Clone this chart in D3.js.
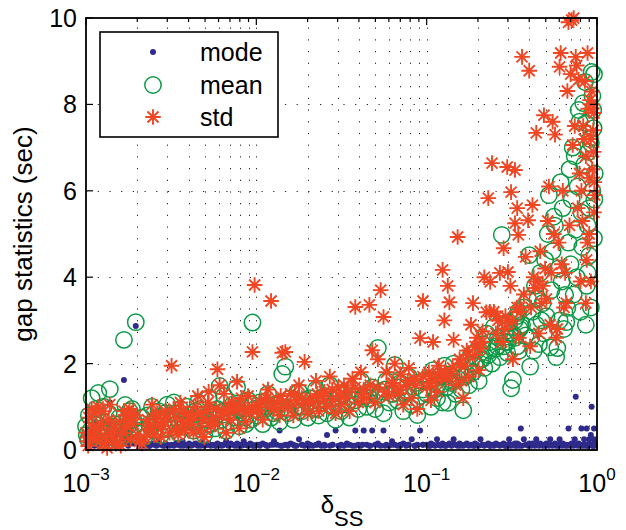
<!DOCTYPE html>
<html lang="en">
<head>
<meta charset="UTF-8">
<title>gap statistics vs delta_SS</title>
<script src="https://d3js.org/d3.v7.min.js"></script>
<style>
  body { margin: 0; background: #fff; }
  svg text { font-family: "Liberation Sans", Arial, sans-serif; fill: #000; }
</style>
</head>
<body>
<div id="chart"></div>
<script>
// one row per delta_SS value: mode, mean and std of the gaps (sec)
const delta = [
  0.00100, 0.00101, 0.00103, 0.00104, 0.00106, 0.00108, 0.00110, 0.00112, 0.00114, 0.00116,
  0.00118, 0.00120, 0.00122, 0.00125, 0.00127, 0.00130, 0.00133, 0.00136, 0.00138, 0.00141,
  0.00144, 0.00147, 0.00150, 0.00153, 0.00157, 0.00160, 0.00163, 0.00167, 0.00170, 0.00174,
  0.00177, 0.00180, 0.00183, 0.00186, 0.00190, 0.00196, 0.00200, 0.00206, 0.00213, 0.00220,
  0.00230, 0.00237, 0.00244, 0.00251, 0.00259, 0.00267, 0.00275, 0.00283, 0.00292, 0.00300,
  0.00309, 0.00318, 0.00328, 0.00338, 0.00348, 0.00358, 0.00369, 0.00380, 0.00391, 0.00403,
  0.00415, 0.00427, 0.00440, 0.00453, 0.00467, 0.00481, 0.00495, 0.00510, 0.00525, 0.00541,
  0.00557, 0.00574, 0.00591, 0.00609, 0.00627, 0.00646, 0.00665, 0.00685, 0.00706, 0.00727,
  0.00749, 0.00771, 0.00794, 0.00818, 0.00843, 0.00868, 0.00894, 0.00921, 0.00949, 0.00977,
  0.0101, 0.0105, 0.0109, 0.0113, 0.0117, 0.0122, 0.0127, 0.0132, 0.0137, 0.0142,
  0.0148, 0.0153, 0.0159, 0.0165, 0.0172, 0.0178, 0.0185, 0.0192, 0.0200, 0.0207,
  0.0215, 0.0224, 0.0232, 0.0241, 0.0251, 0.0260, 0.0270, 0.0281, 0.0292, 0.0303,
  0.0315, 0.0327, 0.0340, 0.0353, 0.0367, 0.0381, 0.0396, 0.0411, 0.0427, 0.0444,
  0.0461, 0.0479, 0.0498, 0.0517, 0.0537, 0.0558, 0.0580, 0.0602, 0.0626, 0.0650,
  0.0675, 0.0701, 0.0729, 0.0757, 0.0786, 0.0817, 0.0848, 0.0881, 0.0915, 0.0951,
  0.100, 0.103, 0.106, 0.109, 0.112, 0.115, 0.118, 0.121, 0.124, 0.127,
  0.130, 0.133, 0.136, 0.140, 0.144, 0.148, 0.152, 0.156, 0.160, 0.164,
  0.168, 0.172, 0.177, 0.182, 0.187, 0.192, 0.197, 0.202, 0.207, 0.213,
  0.218, 0.224, 0.230, 0.236, 0.242, 0.248, 0.255, 0.262, 0.269, 0.276,
  0.283, 0.290, 0.297, 0.305, 0.313, 0.321, 0.330, 0.339, 0.348, 0.357,
  0.300, 0.310, 0.330, 0.340, 0.345, 0.363, 0.372, 0.381, 0.394, 0.400,
  0.405, 0.410, 0.418, 0.425, 0.432, 0.440, 0.448, 0.456, 0.464, 0.472,
  0.480, 0.488, 0.496, 0.505, 0.514, 0.522, 0.531, 0.540, 0.549, 0.558,
  0.567, 0.576, 0.585, 0.594, 0.603, 0.612, 0.621, 0.630, 0.640, 0.650,
  0.660, 0.670, 0.680, 0.690, 0.700, 0.710, 0.720, 0.730, 0.740, 0.750,
  0.760, 0.770, 0.780, 0.790, 0.800, 0.810, 0.820, 0.830, 0.840, 0.850,
  0.860, 0.870, 0.880, 0.890, 0.900, 0.910, 0.920, 0.930, 0.940, 0.950,
  0.955, 0.960, 0.965, 0.970, 0.860, 0.880, 0.900, 0.920, 0.940, 0.960,
  0.00235, 0.00262, 0.00290, 0.00335, 0.00372, 0.00420, 0.00470, 0.00520, 0.00580, 0.00640,
  0.0070, 0.0078, 0.0086, 0.0095, 0.0104, 0.0115, 0.0126, 0.0139, 0.0152, 0.0168,
  0.0185, 0.0205, 0.0228, 0.0252, 0.0279, 0.0310, 0.0343, 0.0380, 0.0420, 0.0466,
  0.0515, 0.0570, 0.0632, 0.0700, 0.0775, 0.0858, 0.0950, 0.105, 0.116, 0.128,
  0.142, 0.157, 0.174, 0.192, 0.212, 0.235, 0.260, 0.288, 0.318, 0.352
];
const modeGap = [
  0.20, 0.35, 0.10, 0.50, 0.25, 0.15, 0.40, 0.10, 0.65, 0.20,
  0.30, 0.10, 0.55, 0.20, 0.15, 0.35, 0.10, 0.60, 1.10, 0.25,
  0.20, 0.10, 0.35, 0.15, 0.45, 0.10, 0.25, 1.62, 0.20, 0.30,
  0.10, 0.40, 0.20, 0.85, 0.15, 2.87, 0.30, 0.10, 0.20, 0.10,
  0.12, 0.10, 0.15, 0.12, 0.10, 0.20, 0.12, 0.10, 0.15, 0.12,
  0.10, 0.12, 0.10, 0.15, 0.12, 0.10, 0.20, 0.12, 0.10, 0.15,
  0.10, 0.12, 0.15, 0.10, 0.12, 0.20, 0.10, 0.12, 0.15, 0.10,
  0.12, 0.10, 0.15, 0.12, 0.10, 0.12, 0.20, 0.10, 0.15, 0.12,
  0.10, 0.15, 0.12, 0.10, 0.20, 0.12, 0.10, 0.15, 0.12, 0.10,
  0.12, 0.10, 0.15, 0.12, 0.10, 0.12, 0.20, 0.12, 0.45, 0.10,
  0.12, 0.10, 0.15, 0.12, 0.10, 0.25, 0.12, 0.10, 0.15, 0.12,
  0.10, 0.12, 0.15, 0.10, 0.12, 0.35, 0.10, 0.12, 0.45, 0.10,
  0.12, 0.10, 0.15, 0.12, 0.10, 0.45, 0.12, 0.10, 0.45, 0.12,
  0.10, 0.45, 0.12, 0.15, 0.10, 0.45, 0.12, 0.10, 0.20, 0.12,
  0.10, 0.12, 0.15, 0.10, 0.12, 0.25, 0.10, 0.12, 0.45, 0.12,
  0.12, 0.10, 0.15, 0.12, 0.10, 0.25, 0.12, 0.10, 0.15, 0.12,
  0.10, 0.12, 0.15, 0.10, 0.25, 0.12, 0.10, 0.15, 0.12, 0.10,
  0.12, 0.15, 0.10, 0.12, 0.10, 0.15, 0.12, 0.10, 0.25, 0.12,
  0.10, 0.12, 0.15, 0.10, 0.12, 0.10, 0.15, 0.12, 0.10, 0.12,
  0.15, 0.10, 0.12, 0.25, 0.10, 0.12, 0.15, 0.10, 0.12, 0.50,
  0.10, 0.12, 0.10, 0.15, 0.12, 0.10, 0.25, 0.12, 0.10, 0.15,
  0.12, 0.10, 0.15, 0.12, 0.10, 0.25, 0.12, 0.10, 0.15, 0.12,
  0.10, 0.12, 0.10, 0.15, 0.12, 0.10, 0.25, 0.12, 0.10, 0.12,
  0.15, 0.10, 0.12, 0.10, 0.25, 0.12, 0.10, 0.15, 0.12, 0.10,
  0.12, 0.10, 0.50, 0.12, 0.10, 0.15, 0.12, 0.10, 0.25, 1.23,
  0.12, 0.10, 0.15, 0.12, 0.10, 0.50, 0.12, 0.10, 0.25, 0.12,
  0.10, 0.50, 0.12, 0.10, 0.25, 0.12, 0.35, 1.00, 0.12, 0.10,
  0.12, 0.50, 0.10, 0.15, 0.12, 0.10, 0.15, 0.12, 0.10, 0.25,
  0.10, 0.12, 0.10, 0.12, 0.10, 0.12, 0.10, 0.12, 0.10, 0.12,
  0.12, 0.10, 0.12, 0.10, 0.12, 0.10, 0.12, 0.10, 0.12, 0.10,
  0.12, 0.10, 0.12, 0.10, 0.12, 0.10, 0.12, 0.10, 0.12, 0.10,
  0.12, 0.10, 0.12, 0.10, 0.12, 0.10, 0.12, 0.10, 0.12, 0.10,
  0.12, 0.10, 0.12, 0.10, 0.12, 0.10, 0.12, 0.10, 0.12, 0.10
];
const meanGap = [
  0.55, 0.35, 0.25, 0.80, 0.45, 1.20, 0.30, 0.60, 0.95, 0.40,
  1.32, 0.50, 0.70, 0.30, 1.00, 0.45, 0.20, 0.85, 1.41, 0.55,
  0.35, 0.60, 0.25, 0.40, 0.75, 0.30, 0.50, 2.55, 1.04, 0.65,
  0.55, 0.90, 0.35, 0.95, 0.70, 2.96, 0.45, 0.40, 0.75, 0.30,
  0.80, 0.55, 1.00, 0.45, 0.70, 0.90, 0.35, 0.65, 0.85, 1.05,
  0.50, 0.75, 1.10, 0.60, 0.40, 0.95, 0.70, 0.55, 1.00, 0.80,
  0.65, 0.45, 0.90, 1.10, 0.55, 0.80, 0.35, 0.70, 1.20, 0.60,
  0.85, 0.50, 0.95, 1.48, 0.70, 1.25, 0.45, 0.90, 0.65, 1.05,
  0.75, 1.45, 0.55, 1.00, 0.85, 0.60, 1.15, 0.70, 2.95, 0.95,
  0.80, 1.10, 0.60, 0.95, 1.30, 0.75, 1.05, 0.90, 0.65, 1.76,
  1.93, 0.85, 1.20, 0.70, 1.00, 1.35, 0.90, 1.15, 0.75, 1.05,
  0.95, 1.40, 0.80, 1.10, 1.25, 0.85, 1.50, 1.00, 0.70, 1.20,
  0.90, 1.30, 1.05, 0.75, 1.40, 1.15, 0.95, 1.60, 1.25, 1.00,
  1.20, 1.45, 0.95, 2.36, 1.35, 0.85, 1.60, 1.10, 1.30, 1.97,
  1.15, 1.55, 0.90, 1.30, 1.70, 1.05, 1.45, 0.81, 1.25, 1.60,
  1.30, 1.60, 1.00, 1.85, 1.40, 1.20, 1.70, 1.50, 1.10, 1.95,
  1.45, 1.09, 1.75, 1.55, 2.00, 1.30, 1.65, 1.85, 1.40, 0.92,
  1.70, 2.05, 1.50, 2.20, 1.80, 1.95, 2.30, 1.60, 2.10, 2.45,
  1.90, 2.70, 2.20, 2.50, 2.00, 2.85, 2.35, 2.60, 2.15, 4.98,
  2.40, 2.75, 2.25, 2.95, 1.43, 1.62, 2.60, 3.10, 2.30, 2.85,
  2.50, 2.70, 3.00, 2.40, 3.20, 2.90, 3.30, 2.65, 3.50, 4.51,
  1.93, 2.60, 3.20, 2.30, 3.80, 2.90, 3.50, 2.45, 4.10, 3.00,
  3.40, 2.70, 4.40, 3.10, 5.00, 5.90, 2.38, 3.70, 4.60, 5.40,
  5.19, 2.15, 2.36, 4.20, 3.00, 6.20, 3.90, 5.60, 2.80, 3.59,
  2.96, 3.29, 4.80, 6.50, 4.30, 5.80, 7.00, 3.60, 6.80, 5.10,
  4.00, 6.10, 7.87, 7.60, 3.20, 5.50, 4.70, 8.03, 6.60, 8.52,
  7.57, 3.80, 5.20, 6.90, 4.50, 7.20, 3.30, 8.75, 6.00, 7.87,
  7.45, 8.70, 5.80, 6.40, 2.90, 4.10, 5.60, 7.10, 8.20, 4.90,
  0.60, 0.75, 0.50, 0.85, 0.65, 0.70, 0.95, 0.60, 0.80, 0.90,
  0.85, 0.95, 0.75, 1.05, 0.90, 1.00, 0.85, 1.10, 0.95, 1.15,
  1.00, 1.20, 0.95, 1.15, 1.05, 1.30, 1.10, 1.25, 1.20, 1.35,
  1.25, 1.40, 1.30, 1.45, 1.35, 1.55, 1.40, 1.60, 1.50, 1.70,
  1.60, 1.80, 1.75, 2.00, 2.10, 2.30, 2.40, 2.50, 2.70, 2.80
];
const stdGap = [
  0.40, 0.20, 0.10, 0.75, 0.30, 0.95, 0.55, 0.35, 0.85, 0.25,
  1.00, 0.45, 0.60, 0.15, 0.90, 0.30, 0.05, 0.70, 1.05, 0.40,
  0.30, 0.50, 0.15, 0.20, 0.65, 0.10, 0.40, 0.90, 0.80, 0.55,
  0.70, 0.95, 0.25, 0.85, 0.60, 0.80, 0.35, 0.20, 0.15, 0.30,
  0.70, 0.50, 1.05, 0.35, 0.80, 0.60, 0.30, 0.55, 0.90, 0.75,
  0.40, 1.95, 0.95, 0.50, 0.35, 1.10, 0.65, 0.45, 0.85, 0.70,
  0.60, 0.40, 1.00, 1.25, 0.45, 0.70, 0.30, 0.90, 1.35, 0.55,
  0.75, 0.60, 1.87, 1.50, 0.80, 1.30, 0.40, 1.00, 0.70, 1.10,
  0.90, 1.58, 0.50, 1.20, 0.95, 0.65, 1.25, 0.85, 2.27, 3.82,
  0.90, 1.00, 0.70, 1.15, 1.40, 3.45, 1.00, 1.10, 0.80, 2.25,
  2.27, 1.00, 1.30, 0.80, 1.15, 1.50, 1.05, 2.04, 0.85, 1.20,
  1.10, 1.60, 0.90, 1.25, 1.35, 1.00, 1.70, 1.15, 0.85, 1.45,
  1.05, 1.50, 1.20, 0.90, 1.65, 3.31, 1.10, 1.80, 1.40, 1.20,
  3.36, 2.31, 1.10, 2.10, 3.70, 3.08, 1.80, 1.25, 1.50, 2.00,
  1.30, 1.75, 1.05, 1.50, 1.90, 1.20, 1.65, 0.95, 2.59, 3.45,
  1.45, 1.80, 1.15, 2.50, 1.60, 1.35, 1.95, 1.70, 4.17, 3.00,
  1.65, 3.80, 3.42, 1.75, 2.55, 1.50, 4.93, 2.10, 1.60, 1.20,
  1.95, 2.30, 1.70, 2.90, 3.40, 2.20, 2.60, 1.85, 2.35, 2.75,
  4.00, 3.19, 5.83, 3.89, 6.64, 3.20, 2.70, 3.00, 4.10, 2.50,
  4.67, 3.10, 6.55, 2.95, 5.97, 2.10, 6.48, 3.30, 2.60, 3.20,
  4.12, 3.80, 5.25, 5.60, 4.98, 9.10, 3.60, 4.47, 5.32, 8.78,
  2.40, 3.30, 5.67, 4.00, 3.75, 7.34, 3.90, 2.70, 4.60, 3.40,
  3.80, 7.75, 4.20, 3.50, 5.30, 6.10, 2.90, 4.10, 7.60, 5.00,
  7.30, 2.60, 2.80, 4.80, 8.87, 9.19, 4.30, 6.00, 3.30, 4.10,
  3.40, 8.31, 9.90, 5.20, 8.70, 9.95, 7.06, 10.00, 7.50, 9.10,
  8.90, 5.60, 8.57, 6.40, 3.90, 6.00, 5.30, 7.50, 7.20, 8.54,
  6.80, 4.40, 9.19, 7.90, 5.00, 8.10, 3.90, 8.30, 6.50, 7.40,
  6.90, 7.80, 6.20, 5.90, 3.40, 4.80, 6.30, 7.20, 8.00, 5.50,
  0.55, 0.85, 0.65, 0.75, 0.90, 0.80, 0.85, 1.10, 0.95, 0.85,
  0.95, 1.05, 0.90, 1.00, 1.10, 1.20, 0.95, 1.25, 1.05, 1.30,
  1.20, 1.10, 1.30, 1.15, 1.40, 1.25, 1.35, 1.45, 1.30, 1.50,
  1.45, 1.35, 1.55, 1.40, 1.60, 1.50, 1.70, 1.55, 1.75, 1.80,
  1.90, 2.00, 2.20, 2.40, 2.50, 3.20, 3.10, 2.80, 3.00, 3.30
];
const seriesNames = ["mode", "mean", "std"];
const xMajorTicks = [1e-3, 1e-2, 1e-1, 1];
const xTickExponents = ["\u22123", "\u22122", "\u22121", "0"];
const yTicks = [0, 2, 4, 6, 8, 10];

const width = 626, height = 530;
const colors = { mode: "#2e2b8c", mean: "#0d9a47", std: "#ef4623" };

const x = d3.scaleLog().domain([1e-3, 1]).range([86, 597]);
const y = d3.scaleLinear().domain([0, 10]).range([450, 18]);

// minor log positions 2..9 x 10^k
const xMinorTicks = [];
[1e-3, 1e-2, 1e-1].forEach(d => { for (let k = 2; k <= 9; k++) xMinorTicks.push(d * k); });

const svg = d3.select("#chart").append("svg")
  .attr("width", width)
  .attr("height", height);

svg.append("rect").attr("width", width).attr("height", height).attr("fill", "#fff");

// dotted grid
const grid = svg.append("g")
  .attr("stroke", "#222")
  .attr("stroke-width", 1)
  .attr("stroke-dasharray", "1.2 10.5");
grid.selectAll(".vg")
  .data(xMajorTicks.concat(xMinorTicks).filter(d => d > 1e-3 && d < 1))
  .enter().append("line")
  .attr("x1", d => Math.round(x(d)) + 0.5).attr("x2", d => Math.round(x(d)) + 0.5)
  .attr("y1", y(0)).attr("y2", y(10));
grid.selectAll(".hg")
  .data(yTicks.filter(d => d > 0 && d < 10))
  .enter().append("line")
  .attr("y1", d => Math.round(y(d)) + 0.5).attr("y2", d => Math.round(y(d)) + 0.5)
  .attr("x1", x(1e-3)).attr("x2", x(1));

const rows = delta.map((d, i) => ({ d, mode: modeGap[i], mean: meanGap[i], std: stdGap[i] }));

const asterisk = (a, b) =>
  `M0,${-a}V${a}M${-a},0H${a}M${-b},${-b}L${b},${b}M${-b},${b}L${b},${-b}`;

// mode: small dots
svg.append("g").selectAll("circle")
  .data(rows).enter().append("circle")
  .attr("cx", r => x(r.d)).attr("cy", r => y(r.mode))
  .attr("r", 3)
  .attr("fill", colors.mode);

// mean: open circles
svg.append("g").selectAll("circle")
  .data(rows).enter().append("circle")
  .attr("cx", r => x(r.d)).attr("cy", r => y(r.mean))
  .attr("r", 8.2)
  .attr("fill", "none")
  .attr("stroke", colors.mean)
  .attr("stroke-width", 1.5);

// std: asterisks
svg.append("g").selectAll("path")
  .data(rows).enter().append("path")
  .attr("transform", r => `translate(${x(r.d)},${y(r.std)})`)
  .attr("d", asterisk(7.8, 5.5))
  .attr("fill", "none")
  .attr("stroke", colors.std)
  .attr("stroke-width", 1.9);

// axes box
svg.append("rect")
  .attr("x", x(1e-3)).attr("y", y(10))
  .attr("width", x(1) - x(1e-3)).attr("height", y(0) - y(10))
  .attr("fill", "none").attr("stroke", "#000").attr("stroke-width", 1.8);

// ticks (inward, on all four sides)
const ticks = svg.append("g").attr("stroke", "#000").attr("stroke-width", 1.2);
xMajorTicks.forEach(d => {
  ticks.append("line").attr("x1", x(d)).attr("x2", x(d)).attr("y1", y(0)).attr("y2", y(0) - 7);
  ticks.append("line").attr("x1", x(d)).attr("x2", x(d)).attr("y1", y(10)).attr("y2", y(10) + 7);
});
xMinorTicks.forEach(d => {
  ticks.append("line").attr("x1", x(d)).attr("x2", x(d)).attr("y1", y(0)).attr("y2", y(0) - 4);
  ticks.append("line").attr("x1", x(d)).attr("x2", x(d)).attr("y1", y(10)).attr("y2", y(10) + 4);
});
yTicks.forEach(d => {
  ticks.append("line").attr("y1", y(d)).attr("y2", y(d)).attr("x1", x(1e-3)).attr("x2", x(1e-3) + 7);
  ticks.append("line").attr("y1", y(d)).attr("y2", y(d)).attr("x1", x(1)).attr("x2", x(1) - 7);
});

// tick labels
svg.append("g").selectAll("text")
  .data(yTicks).enter().append("text")
  .attr("x", x(1e-3) - 9).attr("y", d => y(d) + 9)
  .attr("text-anchor", "end")
  .attr("font-size", 25)
  .text(d => d);

const xl = svg.append("g").selectAll("text")
  .data(xMajorTicks).enter().append("text")
  .attr("x", d => x(d)).attr("y", 492)
  .attr("text-anchor", "middle")
  .attr("font-size", 25);
xl.append("tspan").text("10");
xl.append("tspan").attr("dy", -12).attr("font-size", 17).text((d, i) => xTickExponents[i]);

// axis labels
svg.append("text")
  .attr("transform", "translate(32,234) rotate(-90)")
  .attr("text-anchor", "middle")
  .attr("font-size", 26)
  .text("gap statistics (sec)");

const xt = svg.append("text")
  .attr("x", 342).attr("y", 513)
  .attr("text-anchor", "middle")
  .attr("font-size", 24);
xt.append("tspan").text("\u03b4");
xt.append("tspan").attr("dy", 13).attr("font-size", 22).text("SS");

// legend
const legend = svg.append("g");
legend.append("rect")
  .attr("x", 100).attr("y", 32).attr("width", 178).attr("height", 105)
  .attr("fill", "#fff").attr("stroke", "#000").attr("stroke-width", 1.6);
const rowsY = [52, 85, 117];
const li = legend.selectAll(".li").data(seriesNames).enter().append("g")
  .attr("transform", (d, i) => `translate(0,${rowsY[i]})`);
li.each(function (d) {
  const g = d3.select(this);
  if (d === "mode") {
    g.append("circle").attr("cx", 153).attr("cy", 0).attr("r", 3).attr("fill", colors.mode);
  } else if (d === "mean") {
    g.append("circle").attr("cx", 153).attr("cy", 0).attr("r", 8.2)
      .attr("fill", "none").attr("stroke", colors.mean).attr("stroke-width", 1.5);
  } else {
    g.append("path").attr("transform", "translate(153,0)").attr("d", asterisk(7.8, 5.5))
      .attr("fill", "none").attr("stroke", colors.std).attr("stroke-width", 1.9);
  }
  g.append("text").attr("x", 200).attr("y", 9).attr("font-size", 25).text(d);
});
</script>
</body>
</html>
